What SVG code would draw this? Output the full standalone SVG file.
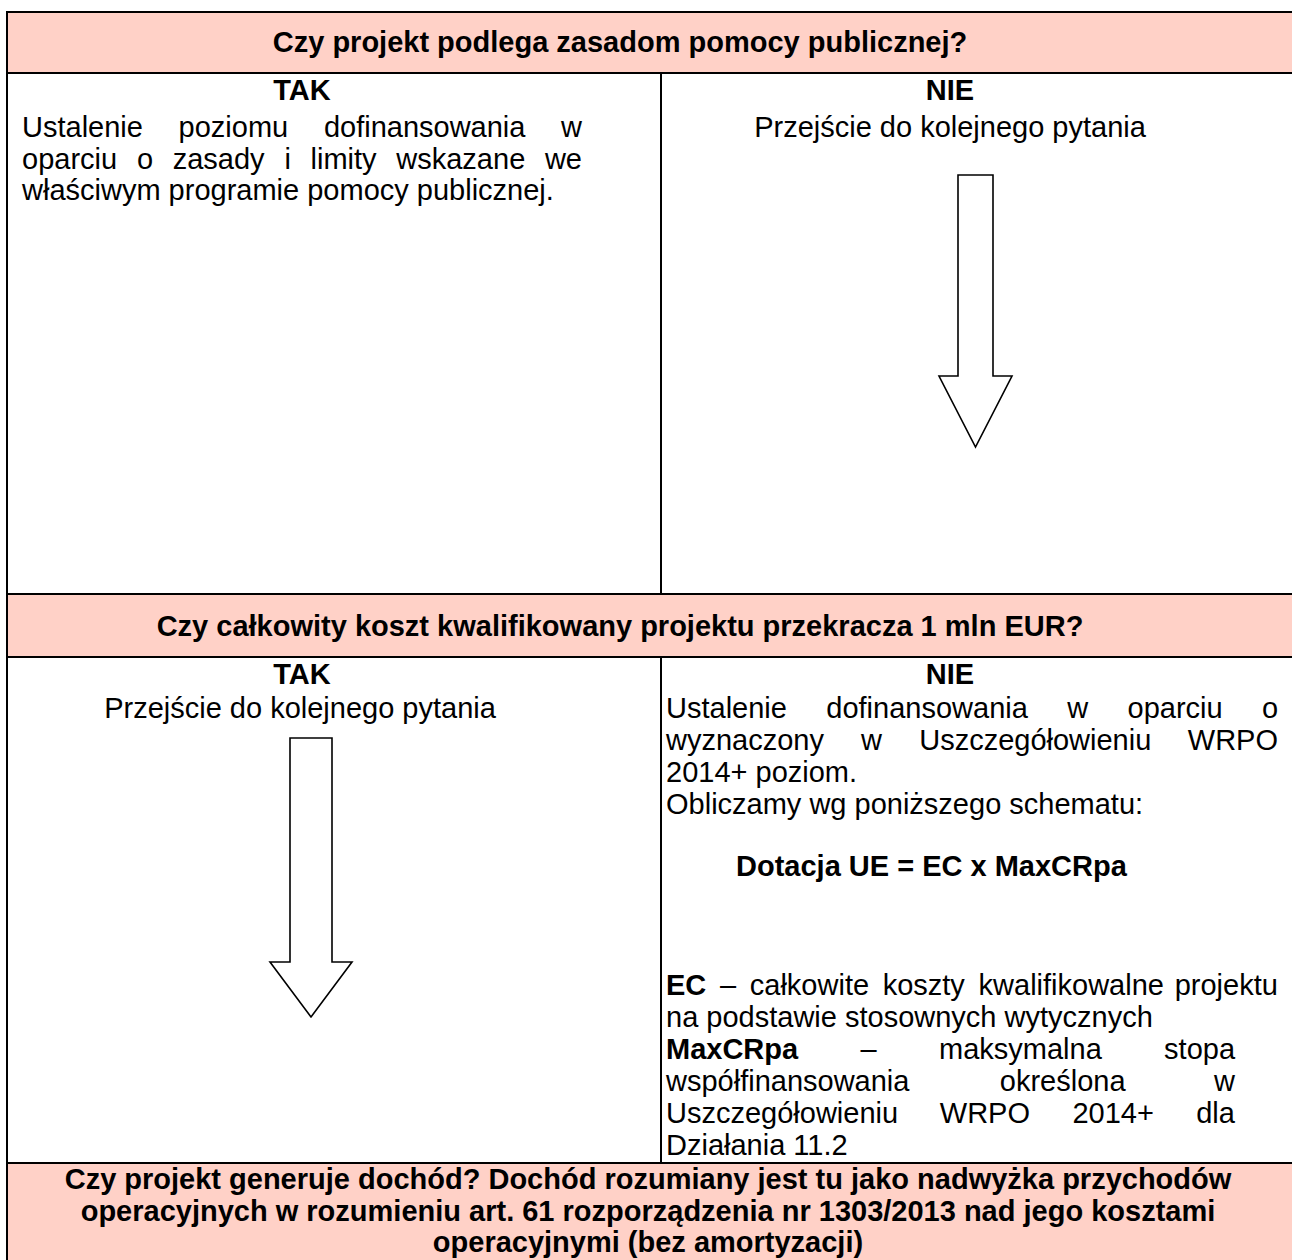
<svg xmlns="http://www.w3.org/2000/svg" width="1292" height="1260" viewBox="0 0 1292 1260">
<style>
text{font-family:"Liberation Sans",Arial,sans-serif;font-size:29px;fill:#000}
.b{font-weight:bold}
.c{text-anchor:middle}
.hdr{fill:#FFD1C7}
.ln{stroke:#000;stroke-width:2;fill:none}
.arr{fill:#fff;stroke:#000;stroke-width:1.6;stroke-linejoin:miter}
</style>
<rect width="1292" height="1260" fill="#fff"/>
<g id="header1">
<rect class="hdr" x="7" y="12" width="1300" height="61"/>
<text class="b c" x="620" y="52">Czy projekt podlega zasadom pomocy publicznej?</text>
</g>
<g id="tak1">
<text class="b c" x="302" y="100">TAK</text>
<text y="137"><tspan x="22">Ustalenie</tspan><tspan x="178.6">poziomu</tspan><tspan x="323.9">dofinansowania</tspan><tspan x="561.1">w</tspan></text>
<text y="168.5"><tspan x="22">oparciu</tspan><tspan x="136.9">o</tspan><tspan x="172.7">zasady</tspan><tspan x="284.4">i</tspan><tspan x="310.5">limity</tspan><tspan x="396.3">wskazane</tspan><tspan x="544.9">we</tspan></text>
<text x="22" y="200">właściwym programie pomocy publicznej.</text>
</g>
<g id="nie1">
<text class="b c" x="950" y="100">NIE</text>
<text class="c" x="950" y="137">Przejście do kolejnego pytania</text>
</g>
<g id="header2">
<rect class="hdr" x="7" y="594" width="1300" height="63"/>
<text class="b c" x="620" y="636">Czy całkowity koszt kwalifikowany projektu przekracza 1 mln EUR?</text>
</g>
<g id="tak2">
<text class="b c" x="302" y="684">TAK</text>
<text class="c" x="300" y="718">Przejście do kolejnego pytania</text>
</g>
<g id="nie2">
<text class="b c" x="950" y="684">NIE</text>
<text y="718"><tspan x="666">Ustalenie</tspan><tspan x="826.3">dofinansowania</tspan><tspan x="1067.2">w</tspan><tspan x="1127.5">oparciu</tspan><tspan x="1262">o</tspan></text>
<text y="750"><tspan x="666">wyznaczony</tspan><tspan x="861.1">w</tspan><tspan x="919.2">Uszczegółowieniu</tspan><tspan x="1187.8">WRPO</tspan></text>
<text x="666" y="782">2014+ poziom.</text>
<text x="666" y="814">Obliczamy wg poniższego schematu:</text>
<text class="b" x="736" y="876">Dotacja UE = EC x MaxCRpa</text>
<text y="995"><tspan x="666" class="b">EC</tspan><tspan x="720">–</tspan><tspan x="749.8">całkowite</tspan><tspan x="882.7">koszty</tspan><tspan x="978.6">kwalifikowalne</tspan><tspan x="1174.7">projektu</tspan></text>
<text x="666" y="1027">na podstawie stosownych wytycznych</text>
<text y="1059"><tspan x="666" class="b">MaxCRpa</tspan><tspan x="860.5">–</tspan><tspan x="939">maksymalna</tspan><tspan x="1164.1">stopa</tspan></text>
<text y="1091"><tspan x="666">współfinansowania</tspan><tspan x="999.8">określona</tspan><tspan x="1214.1">w</tspan></text>
<text y="1123"><tspan x="666">Uszczegółowieniu</tspan><tspan x="939.8">WRPO</tspan><tspan x="1072.4">2014+</tspan><tspan x="1196.2">dla</tspan></text>
<text x="666" y="1155">Działania 11.2</text>
</g>
<g id="header3">
<rect class="hdr" x="7" y="1163" width="1300" height="110"/>
<text class="b c" x="648" y="1189">Czy projekt generuje dochód? Dochód rozumiany jest tu jako nadwyżka przychodów</text>
<text class="b c" x="648" y="1221">operacyjnych w rozumieniu art. 61 rozporządzenia nr 1303/2013 nad jego kosztami</text>
<text class="b c" x="648" y="1252">operacyjnymi (bez amortyzacji)</text>
</g>
<g id="grid">
<path class="ln" d="M6,12H1300M6,73H1300M6,594H1300M6,657H1300M6,1163H1300M7,11V1270M661,73V594M661,657V1163"/>
</g>
<g id="connectors">
<path class="arr" d="M958,175H993V376H1012L975.5,447L939,376H958Z"/>
<path class="arr" d="M290,738H332V962H352L311,1017L270,962H290Z"/>
</g>
</svg>
